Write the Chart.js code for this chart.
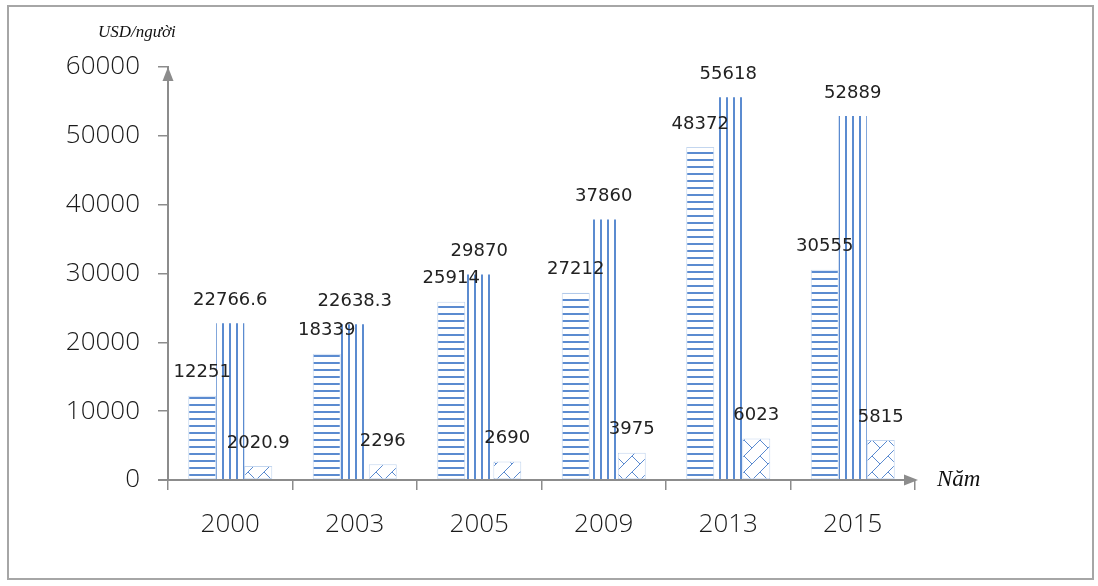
<!DOCTYPE html>
<html>
<head>
<meta charset="utf-8">
<script src="https://cdn.jsdelivr.net/npm/chart.js@4"></script>
<style>
  html, body { margin: 0; padding: 0; background: #fff; }
  canvas { display: block; }
</style>
</head>
<body>
<canvas id="gdpChart" width="1098" height="586"></canvas>
<script>
// data
const years = ["2000", "2003", "2005", "2009", "2013", "2015"];
const seriesA = [12251, 18339, 25914, 27212, 48372, 30555];
const seriesB = [22766.6, 22638.3, 29870, 37860, 55618, 52889];
const seriesC = [2020.9, 2296, 2690, 3975, 6023, 5815];
const yTicks = [0, 10000, 20000, 30000, 40000, 50000, 60000];
const yUnit = "USD/người";
const xUnit = "Năm";

const axisGray = "#8c8c8c";
const lineBlue = "#5b8bd0";
const edgeBlue = "#c3d6ef";

function makePattern(w, h, draw) {
  const c = document.createElement("canvas");
  c.width = w; c.height = h;
  const g = c.getContext("2d");
  g.fillStyle = "#fff";
  g.fillRect(0, 0, w, h);
  draw(g);
  return g.createPattern(c, "repeat");
}

const hLines = makePattern(4, 7, g => {
  g.fillStyle = lineBlue;
  g.fillRect(0, 5, 4, 2);
});

const vLines = makePattern(7, 4, g => {
  g.fillStyle = lineBlue;
  g.fillRect(5, 0, 2, 4);
});

const brick = makePattern(16, 16, g => {
  g.strokeStyle = lineBlue;
  g.lineWidth = 1;
  g.beginPath();
  g.moveTo(0, 16); g.lineTo(16, 0);
  g.moveTo(8, 8); g.lineTo(16, 16);
  g.moveTo(-8, 8); g.lineTo(0, 16);
  g.stroke();
});

// frame, unit texts and arrow heads
const decorPlugin = {
  id: "decor",
  beforeDraw(chart) {
    const ctx = chart.ctx;
    ctx.save();
    ctx.fillStyle = "#fff";
    ctx.fillRect(0, 0, chart.width, chart.height);
    ctx.strokeStyle = "#a6a6a6";
    ctx.lineWidth = 2;
    ctx.strokeRect(8, 6, 1085, 573);
    ctx.restore();
  },
  afterDraw(chart) {
    const ctx = chart.ctx;
    const a = chart.chartArea;
    ctx.save();
    ctx.strokeStyle = axisGray;
    ctx.fillStyle = axisGray;
    ctx.lineWidth = 2;
    ctx.beginPath();
    ctx.moveTo(a.left - 10, a.bottom);
    ctx.lineTo(a.right - 4, a.bottom);
    ctx.stroke();
    // x arrow
    ctx.beginPath();
    ctx.moveTo(a.right + 3, a.bottom);
    ctx.lineTo(a.right - 11, a.bottom - 5.5);
    ctx.lineTo(a.right - 11, a.bottom + 5.5);
    ctx.closePath();
    ctx.fill();
    // y arrow
    ctx.beginPath();
    ctx.moveTo(a.left, a.top);
    ctx.lineTo(a.left - 5.5, a.top + 14);
    ctx.lineTo(a.left + 5.5, a.top + 14);
    ctx.closePath();
    ctx.fill();

    ctx.fillStyle = "#111";
    ctx.textBaseline = "alphabetic";
    ctx.font = "italic 17px 'Liberation Serif'";
    ctx.fillText(yUnit, 98, 37);
    ctx.font = "italic 23px 'Liberation Serif'";
    ctx.fillText(xUnit, 937, 486);
    ctx.restore();
  },
  afterDatasetsDraw(chart) {
    const ctx = chart.ctx;
    ctx.save();
    ctx.fillStyle = "#222";
    ctx.font = "18px 'DejaVu Sans'";
    ctx.textAlign = "center";
    ctx.textBaseline = "middle";
    chart.data.datasets.forEach((ds, i) => {
      chart.getDatasetMeta(i).data.forEach((bar, j) => {
        ctx.fillText(String(ds.data[j]), bar.x, bar.y - 23);
      });
    });
    ctx.restore();
  }
};

new Chart(document.getElementById("gdpChart"), {
  type: "bar",
  data: {
    labels: years,
    datasets: [
      { data: seriesA, backgroundColor: hLines, borderColor: edgeBlue, borderWidth: 1, borderSkipped: false },
      { data: seriesB, backgroundColor: vLines, borderWidth: 0 },
      { data: seriesC, backgroundColor: brick, borderColor: edgeBlue, borderWidth: 1, borderSkipped: false }
    ]
  },
  options: {
    responsive: false,
    animation: false,
    devicePixelRatio: 1,
    layout: { padding: { left: 0, top: 67, right: 183, bottom: 0 } },
    datasets: { bar: { categoryPercentage: 0.675, barPercentage: 1 } },
    plugins: {
      legend: { display: false },
      tooltip: { enabled: false }
    },
    scales: {
      x: {
        afterFit: s => { s.height = 106; },
        grid: { display: true, drawOnChartArea: false, offset: true, tickLength: 10, color: axisGray, lineWidth: 1.5 },
        border: { display: false },
        ticks: { padding: 19, color: "#1a1a1a", font: { family: "Open Sans", size: 26, weight: 300 } }
      },
      y: {
        min: 0,
        max: 60000,
        afterFit: s => { s.width = 168; },
        afterBuildTicks: s => { s.ticks = yTicks.map(v => ({ value: v })); },
        grid: { display: true, drawOnChartArea: false, tickLength: 10, color: axisGray, lineWidth: 1.5 },
        border: { display: true, color: axisGray, width: 2 },
        ticks: {
          padding: 18,
          color: "#1a1a1a",
          font: { family: "Open Sans", size: 26, weight: 300 },
          callback: v => String(v)
        }
      }
    }
  },
  plugins: [decorPlugin]
});
</script>
</body>
</html>
